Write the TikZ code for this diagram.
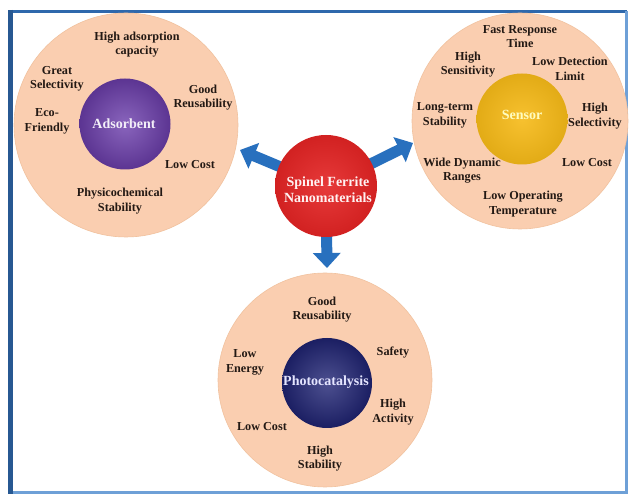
\documentclass[tikz,border=0pt]{standalone}
\usepackage{fontspec}
\setmainfont{Liberation Serif}
\usetikzlibrary{arrows.meta}
\definecolor{peach}{RGB}{250,206,176}
\definecolor{framec}{RGB}{46,104,172}
\definecolor{framel}{RGB}{110,160,215}
\definecolor{arrowc}{RGB}{40,112,190}
\definecolor{purp}{RGB}{108,62,172}
\definecolor{gold}{RGB}{246,186,24}
\definecolor{navy}{RGB}{32,36,116}
\definecolor{redc}{RGB}{228,36,36}
\definecolor{txt}{RGB}{35,25,20}
\tikzset{
  outerc/.style={circle,fill=peach,draw=peach!85!brown,line width=0.6pt,minimum size=#1,inner sep=0pt},
  innerc/.style={circle,minimum size=#1,inner sep=0pt},
  lbl/.style={align=center,text=txt,font=\fontsize{12.2}{14.5}\selectfont\bfseries,inner sep=0pt},
  biglbl/.style={align=center,font=\fontsize{14}{15.5}\selectfont\bfseries,inner sep=0pt},
  bigarrow/.style={draw=arrowc,line width=11pt,-{Triangle[width=27pt,length=15pt]}}
}
\begin{document}
\begin{tikzpicture}[x=1pt,y=-1pt]
\useasboundingbox (0,0) rectangle (630,494);
\fill[white] (0,0) rectangle (630,494);
% frame
\draw[framec,line width=3pt] (10.5,11.5) -- (626.5,11.5);
\draw[framel,line width=3pt] (626.5,11.5) -- (626.5,492.5) -- (10.5,492.5);
\draw[framec!85!black,line width=5pt] (10.5,10) -- (10.5,494);
% outer circles
\node[outerc=224pt] (adsO) at (126,125) {};
\node[outerc=216pt] (senO) at (520,121) {};
\node[outerc=214pt] (phoO) at (325,380) {};
% inner circles
\node[innerc=91pt,shading=radial,inner color=purp!80!white,outer color=purp!85!black] (ads) at (125,124) {};
\node[innerc=91pt,shading=radial,inner color=gold!90!white,outer color=gold!92!black] (sen) at (522,119) {};
\node[innerc=90pt,shading=radial,inner color=navy!80!white,outer color=navy!85!black] (pho) at (327,383) {};
% arrows
\coordinate (center) at (326,186);
\coordinate (tipL) at (240,150);
\coordinate (tipR) at (413,143);
\coordinate (tipD) at (327,268);
\draw[bigarrow] (center) -- (tipL);
\draw[bigarrow] (center) -- (tipR);
\draw[bigarrow] (center) -- (tipD);
\node[innerc=102pt,shading=radial,inner color=redc!90!white,outer color=redc!92!black] (spf) at (center) {};
% center labels
\node[biglbl,text=white!92!purp] (adsT) at (124,124) {Adsorbent};
\node[biglbl,text=yellow!25!white] (senT) at (522,115) {Sensor};
\node[biglbl,text=white!90!blue] (phoT) at (326,382) {Photocatalysis};
\node[biglbl,text=white!95!red] (spfT) at (328,189.5) {Spinel Ferrite\\Nanomaterials};
% adsorbent labels
\node[lbl] (a1) at (137,44.5) {High adsorption\\capacity};
\node[lbl] (a2) at (57,79) {Great\\Selectivity};
\node[lbl] (a3) at (203,97.5) {Good\\Reusability};
\node[lbl] (a4) at (47,121.5) {Eco-\\Friendly};
\node[lbl] (a5) at (190,165) {Low Cost};
\node[lbl] (a6) at (120,201) {Physicochemical\\Stability};
% sensor labels
\node[lbl] (s1) at (520,36.5) {Fast Response\\Time};
\node[lbl] (s2) at (468,64.5) {High\\Sensitivity};
\node[lbl] (s3) at (570,69) {Low Detection\\Limit};
\node[lbl] (s4) at (445,115.5) {Long-term\\Stability};
\node[lbl] (s5) at (595,116) {High\\Selectivity};
\node[lbl] (s6) at (462,170.5) {Wide Dynamic\\Ranges};
\node[lbl] (s7) at (587,163) {Low Cost};
\node[lbl] (s8) at (523,204) {Low Operating\\Temperature};
% photocatalysis labels
\node[lbl] (p1) at (322,309.5) {Good\\Reusability};
\node[lbl] (p2) at (245,362.5) {Low\\Energy};
\node[lbl] (p3) at (393,353) {Safety};
\node[lbl] (p4) at (393,412) {High\\Activity};
\node[lbl] (p5) at (262,427) {Low Cost};
\node[lbl] (p6) at (320,458.5) {High\\Stability};
\end{tikzpicture}
\end{document}
